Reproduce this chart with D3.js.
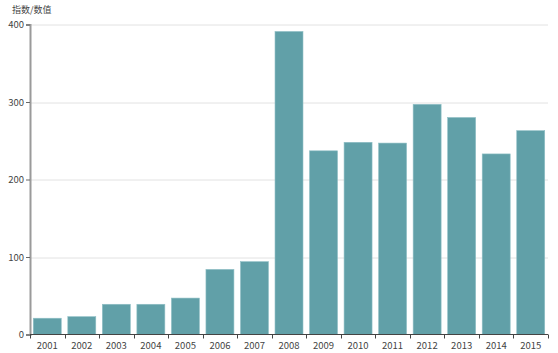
<!DOCTYPE html>
<html>
<head>
<meta charset="utf-8">
<script src="https://cdn.jsdelivr.net/npm/d3@7"></script>
<style>
  body { margin: 0; background: #fff; }
  text { font-family: "Noto Sans CJK SC", "Noto Sans", sans-serif; }
</style>
</head>
<body>
<div id="wrapper"></div>
<script>
// chart data
const years = ["2001", "2002", "2003", "2004", "2005", "2006", "2007", "2008",
               "2009", "2010", "2011", "2012", "2013", "2014", "2015"]
const values = [21, 23, 39, 39, 47, 84, 94, 391, 237, 248, 247, 297, 280, 233, 263]
const yTicks = [0, 100, 200, 300, 400]
const yTitle = "指数/数值"

function drawBarChart() {
    let dims = {
        width: 558,
        height: 353,
        margin: { top: 24.5, right: 10, bottom: 18.5, left: 30 },
    }
    dims.boundWidth = dims.width - dims.margin.left - dims.margin.right
    dims.boundHeight = dims.height - dims.margin.top - dims.margin.bottom

    const svg = d3.select("#wrapper")
        .append("svg")
            .attr("width", dims.width)
            .attr("height", dims.height)

    const bound = svg.append("g")
        .attr("transform", `translate(${dims.margin.left},${dims.margin.top})`)

    const x = d3.scaleBand()
        .domain(years)
        .range([0, dims.boundWidth])
        .paddingInner(0.19)
        .paddingOuter(0.095)

    const y = d3.scaleLinear()
        .domain([0, 400])
        .range([dims.boundHeight, 0])

    // horizontal grid lines
    bound.append("g")
        .selectAll("line")
        .data(yTicks.filter(d => d > 0))
        .join("line")
            .attr("x1", 0)
            .attr("x2", dims.boundWidth)
            .attr("y1", d => Math.round(y(d)) + 0.5)
            .attr("y2", d => Math.round(y(d)) + 0.5)
            .attr("stroke", "#e2e2e2")
            .attr("stroke-width", 1)

    // bars
    bound.append("g")
        .selectAll("rect")
        .data(values)
        .join("rect")
            .attr("x", (d, i) => x(years[i]))
            .attr("width", x.bandwidth())
            .attr("y", d => y(d))
            .attr("height", d => dims.boundHeight - y(d))
            .attr("fill", "#61a0a8")
            .attr("stroke", "#8fbfc5")
            .attr("stroke-width", 0.6)

    // y axis
    const yAxis = bound.append("g")
        .call(d3.axisLeft(y).tickValues(yTicks).tickSize(4).tickPadding(2))
    yAxis.select(".domain").attr("stroke", "#9a9a9a").attr("stroke-width", 2)
    yAxis.selectAll(".tick line").attr("stroke", "#666")
    yAxis.selectAll(".tick text").attr("fill", "#444").style("font-size", "9.5px")

    // x axis, ticks sit on the band boundaries
    const xAxisG = bound.append("g")
        .attr("transform", `translate(0,${dims.boundHeight})`)
    xAxisG.append("line")
        .attr("x1", 0)
        .attr("x2", dims.boundWidth)
        .attr("stroke", "#444")
        .attr("stroke-width", 1)
    const step = x.step()
    xAxisG.selectAll(".xtick")
        .data(d3.range(years.length + 1))
        .join("line")
            .attr("class", "xtick")
            .attr("x1", i => Math.round(i * step) + 0.5)
            .attr("x2", i => Math.round(i * step) + 0.5)
            .attr("y1", 0)
            .attr("y2", 4)
            .attr("stroke", "#444")
    xAxisG.selectAll(".xlabel")
        .data(years)
        .join("text")
            .attr("class", "xlabel")
            .attr("x", d => x(d) + x.bandwidth() / 2)
            .attr("y", 14)
            .attr("text-anchor", "middle")
            .attr("fill", "#444")
            .style("font-size", "9.5px")
            .text(d => d)

    // axis title
    svg.append("text")
        .attr("x", 12)
        .attr("y", 13)
        .attr("fill", "#444")
        .style("font-size", "9px")
        .text(yTitle)
}

drawBarChart()
</script>
</body>
</html>
